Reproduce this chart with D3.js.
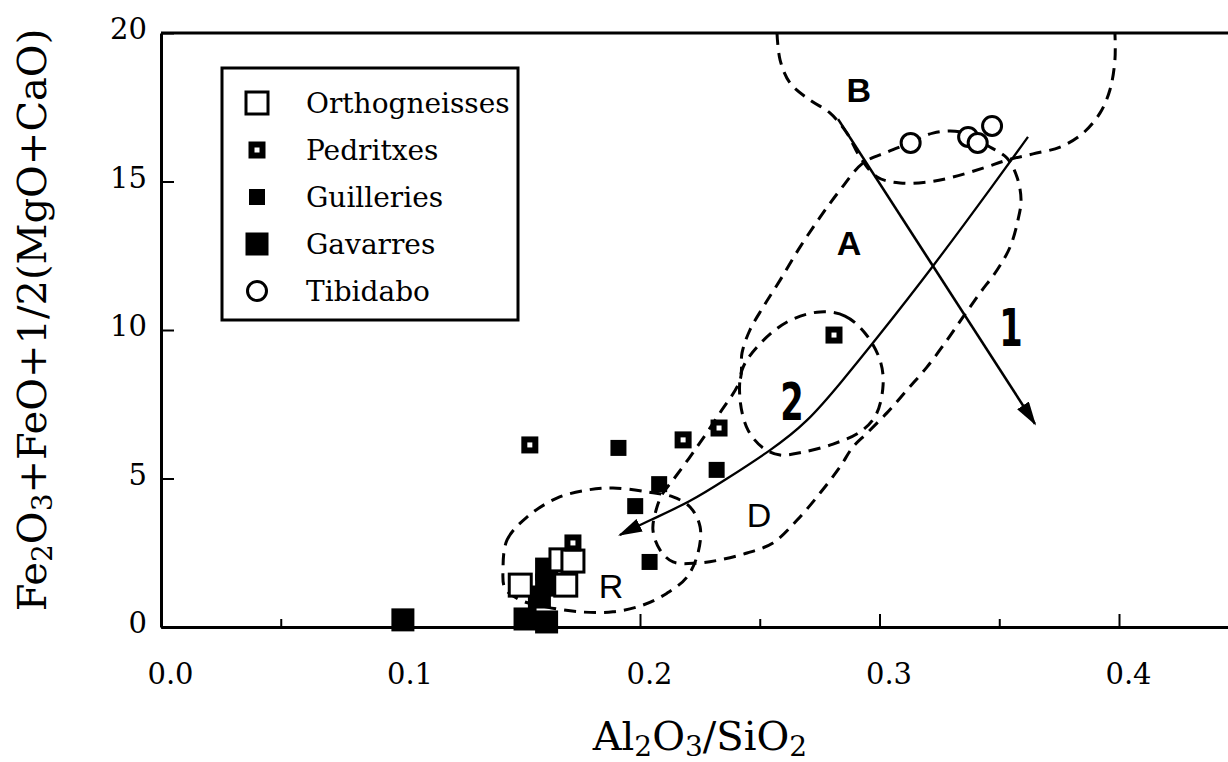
<!DOCTYPE html>
<html>
<head>
<meta charset="utf-8">
<script src="https://cdn.jsdelivr.net/npm/d3@7"></script>
<style>
  body { margin: 0; background: #fff; }
</style>
</head>
<body>
<script>
// sample groups, [Al2O3/SiO2, Fe2O3+FeO+1/2(MgO+CaO)]
const orthogneisses = [[0.150, 1.41], [0.169, 1.41], [0.167, 2.26], [0.172, 2.22]];
const pedritxes = [[0.154, 6.13], [0.218, 6.30], [0.233, 6.70], [0.281, 9.83], [0.172, 2.83]];
const guilleries = [[0.191, 6.03], [0.198, 4.07], [0.204, 2.19], [0.208, 4.81], [0.232, 5.29]];
const gavarres = [[0.101, 0.24], [0.152, 0.27], [0.161, 0.17], [0.161, 1.95], [0.161, 1.41], [0.158, 1.01]];
const tibidabo = [[0.313, 16.30], [0.337, 16.50], [0.341, 16.30], [0.347, 16.87]];

const legendNames = ["Orthogneisses", "Pedritxes", "Guilleries", "Gavarres", "Tibidabo"];
const legendKinds = ["ortho", "pedr", "guil", "gav", "tibi"];

const xMinorTicks = [0.05, 0.15, 0.25, 0.35];
const xMajorTicks = [0, 0.1, 0.2, 0.3, 0.4];
const yTicks = [0, 5, 10, 15, 20];

// dashed fields
const fieldB = [[0.2572, 20], [0.2585, 19.09], [0.2626, 18.32], [0.2710, 17.74], [0.2793, 17.31],
  [0.2864, 16.63], [0.2919, 15.82], [0.2990, 15.15], [0.3086, 14.95], [0.3198, 14.98],
  [0.3307, 15.15], [0.3432, 15.45], [0.3532, 15.72], [0.3641, 15.93], [0.3754, 16.16],
  [0.3850, 16.63], [0.3921, 17.31], [0.3962, 18.08], [0.3983, 19.09], [0.3983, 20]];
const fieldAD = [[0.3031, 15.99], [0.3127, 16.30], [0.3223, 16.63], [0.3336, 16.67], [0.3461, 16.16],
  [0.3532, 15.79], [0.3574, 15.15], [0.3591, 14.38], [0.3578, 13.70], [0.3545, 12.79],
  [0.3491, 12.02], [0.3420, 11.25], [0.3349, 10.44], [0.3282, 9.66], [0.3198, 8.75],
  [0.3115, 7.98], [0.3031, 7.21], [0.2948, 6.53], [0.2889, 6.06], [0.2835, 5.39],
  [0.2752, 4.51], [0.2656, 3.60], [0.2555, 2.83], [0.2447, 2.49], [0.2334, 2.26],
  [0.2238, 2.15], [0.2138, 2.19], [0.2084, 2.59], [0.2054, 3.27], [0.2071, 4.04],
  [0.2096, 4.51], [0.2138, 4.95], [0.2238, 6.06], [0.2334, 7.21], [0.2418, 8.32],
  [0.2426, 9.23], [0.2459, 10.00], [0.2514, 10.77], [0.2585, 11.68], [0.2668, 12.79],
  [0.2752, 13.80], [0.2835, 14.71], [0.2931, 15.62]];
const field2 = [[0.2752, 10.61], [0.2856, 10.47], [0.2939, 9.90], [0.3002, 8.99], [0.3015, 8.15],
  [0.2985, 7.14], [0.2919, 6.57], [0.2806, 6.16], [0.2681, 5.89], [0.2585, 5.79],
  [0.2514, 6.03], [0.2451, 6.63], [0.2418, 7.64], [0.2426, 8.65], [0.2489, 9.43], [0.2614, 10.27]];
const fieldR = [[0.1428, 1.92], [0.1445, 2.93], [0.1528, 3.70], [0.1653, 4.34], [0.1779, 4.61],
  [0.1887, 4.68], [0.2029, 4.55], [0.2138, 4.38], [0.2209, 4.04], [0.2251, 3.37],
  [0.2242, 2.49], [0.2196, 1.68], [0.2113, 1.14], [0.2013, 0.74], [0.1887, 0.51],
  [0.1749, 0.51], [0.1612, 0.67], [0.1499, 0.91], [0.1436, 1.31]];

// trends
const arrow1 = [[0.2827, 17.10], [0.3649, 6.84]];
const arrow2 = [[0.362, 16.50], [0.349, 15.05], [0.3223, 12.12], [0.2973, 9.56], [0.2848, 8.32],
  [0.2697, 6.87], [0.2543, 5.93], [0.2355, 4.95], [0.2209, 4.21], [0.2042, 3.60], [0.1916, 3.10]];

const fieldLabels = [
  { t: "B", x: 0.2914, y: 18.08, kind: "bold" },
  { t: "A", x: 0.2873, y: 12.93, kind: "bold" },
  { t: "D", x: 0.2497, y: 3.77, kind: "plain" },
  { t: "R", x: 0.1879, y: 1.38, kind: "plain" },
  { t: "1", x: 0.3549, y: 10.07, kind: "num" },
  { t: "2", x: 0.2635, y: 7.58, kind: "num" }
];

const W = 1228, H = 762;
const serif = "'DejaVu Serif', 'Liberation Serif', serif";
const sans = "'Liberation Sans', Arial, sans-serif";

const x = d3.scaleLinear().domain([0, 0.45]).range([161, 1238.75]);
const y = d3.scaleLinear().domain([0, 20]).range([627, 33]);

const svg = d3.select("body").append("svg")
  .attr("width", W).attr("height", H)
  .style("font-family", serif);

svg.append("defs").append("marker")
  .attr("id", "head")
  .attr("viewBox", "0 0 24 14")
  .attr("refX", 22).attr("refY", 7)
  .attr("markerWidth", 24).attr("markerHeight", 14)
  .attr("markerUnits", "userSpaceOnUse")
  .attr("orient", "auto")
  .append("path").attr("d", "M0,0L24,7L0,14Z").attr("fill", "#000");

// axes
const gx = svg.append("g").attr("transform", `translate(0,${y(0)})`);
gx.call(d3.axisBottom(x).tickValues(xMinorTicks).tickSizeInner(-8).tickSizeOuter(0).tickFormat(""));
const gx2 = svg.append("g").attr("transform", `translate(0,${y(0)})`);
gx2.call(d3.axisBottom(x).tickValues(xMajorTicks).tickSizeInner(-13).tickSizeOuter(0)
  .tickPadding(36).tickFormat(d3.format(".1f")));
gx2.selectAll("text").attr("dx", 9);

const gy = svg.append("g").attr("transform", `translate(${x(0)},0)`);
gy.call(d3.axisLeft(y).tickValues(yTicks).tickSizeInner(-13).tickSizeOuter(0).tickPadding(14));
gy.selectAll("text").attr("dy", "0.2em");

svg.selectAll(".domain").attr("stroke-width", 3);
svg.selectAll(".tick line").attr("stroke-width", 2);
svg.selectAll(".tick text").style("font-family", serif).style("font-size", "29px").attr("fill", "#000");

svg.append("line")
  .attr("x1", x(0)).attr("x2", x(0.45))
  .attr("y1", y(20)).attr("y2", y(20))
  .attr("stroke", "#000").attr("stroke-width", 3);

// axis titles with subscripts
function subText(sel, parts) {
  let low = false;
  parts.forEach(p => {
    const sub = typeof p !== "string";
    const s = sel.append("tspan").text(sub ? p[0] : p);
    if (sub) {
      s.attr("font-size", "0.7em");
      if (!low) s.attr("dy", 6);
    } else if (low) {
      s.attr("dy", -6);
    }
    low = sub;
  });
}

const xt = svg.append("text")
  .attr("x", x(0.225)).attr("y", 750)
  .attr("text-anchor", "middle")
  .style("font-size", "40px");
subText(xt, ["Al", ["2"], "O", ["3"], "/SiO", ["2"]]);

const yt = svg.append("text")
  .attr("transform", "translate(46,320) rotate(-90)")
  .attr("text-anchor", "middle")
  .style("font-size", "40px");
subText(yt, ["Fe", ["2"], "O", ["3"], "+FeO+1/2(MgO+CaO)"]);

// fields
const closed = d3.line().x(d => x(d[0])).y(d => y(d[1])).curve(d3.curveCatmullRomClosed.alpha(0.5));
const open = d3.line().x(d => x(d[0])).y(d => y(d[1])).curve(d3.curveCatmullRom.alpha(0.5));
const smooth = d3.line().x(d => x(d[0])).y(d => y(d[1])).curve(d3.curveBasis);

const fields = svg.append("g")
  .attr("fill", "none").attr("stroke", "#000")
  .attr("stroke-width", 3).attr("stroke-dasharray", "12,8");
fields.append("path").attr("d", open(fieldB));
fields.append("path").attr("d", closed(fieldAD));
fields.append("path").attr("d", closed(field2));
fields.append("path").attr("d", closed(fieldR));

svg.append("path").attr("d", open(arrow1))
  .attr("fill", "none").attr("stroke", "#000").attr("stroke-width", 2.6)
  .attr("marker-end", "url(#head)");
svg.append("path").attr("d", smooth(arrow2))
  .attr("fill", "none").attr("stroke", "#000").attr("stroke-width", 2.3)
  .attr("marker-end", "url(#head)");

// field labels
svg.append("g").selectAll("text").data(fieldLabels).join("text")
  .attr("transform", d => `translate(${x(d.x)},${y(d.y)})` + (d.kind === "num" ? " scale(0.72,1)" : ""))
  .attr("text-anchor", "middle").attr("dominant-baseline", "central")
  .style("font-family", d => d.kind === "num" ? "'DejaVu Sans Condensed', 'DejaVu Sans', sans-serif" : sans)
  .style("font-weight", d => d.kind === "plain" ? "normal" : "bold")
  .style("font-size", d => d.kind === "num" ? "52px" : "34px")
  .text(d => d.t);

// markers
function symbol(g, kind, cx, cy) {
  if (kind === "ortho") {
    g.append("rect").attr("x", cx - 11).attr("y", cy - 11).attr("width", 22).attr("height", 22)
      .attr("fill", "#fff").attr("stroke", "#000").attr("stroke-width", 3);
  } else if (kind === "pedr") {
    g.append("rect").attr("x", cx - 8.5).attr("y", cy - 8.5).attr("width", 17).attr("height", 17).attr("fill", "#000");
    g.append("rect").attr("x", cx - 2.5).attr("y", cy - 2.5).attr("width", 5).attr("height", 5).attr("fill", "#fff");
  } else if (kind === "guil") {
    g.append("rect").attr("x", cx - 8).attr("y", cy - 8).attr("width", 16).attr("height", 16).attr("fill", "#000");
  } else if (kind === "gav") {
    g.append("rect").attr("x", cx - 11.5).attr("y", cy - 11.5).attr("width", 23).attr("height", 23).attr("fill", "#000");
  } else {
    g.append("circle").attr("cx", cx).attr("cy", cy).attr("r", 9.5)
      .attr("fill", "#fff").attr("stroke", "#000").attr("stroke-width", 3);
  }
}

const pts = svg.append("g");
[[gavarres, "gav"], [guilleries, "guil"], [orthogneisses, "ortho"], [pedritxes, "pedr"], [tibidabo, "tibi"]]
  .forEach(([arr, kind]) => arr.forEach(d => symbol(pts, kind, x(d[0]), y(d[1]))));

// legend
const lg = svg.append("g");
lg.append("rect").attr("x", 222).attr("y", 68).attr("width", 296).attr("height", 252)
  .attr("fill", "#fff").attr("stroke", "#000").attr("stroke-width", 3);
legendNames.forEach((name, i) => {
  const cy = 103 + i * 47;
  symbol(lg, legendKinds[i], 257, cy);
  lg.append("text").attr("x", 306).attr("y", cy).attr("dy", "0.36em")
    .style("font-size", "28px").text(name);
});
</script>
</body>
</html>
